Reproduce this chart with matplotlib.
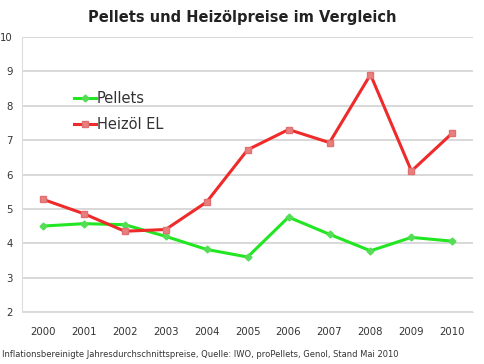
import matplotlib.pyplot as plt

# Jahresdurchschnittspreise (ct/kWh)
years = ['2000', '2001', '2002', '2003', '2004', '2005', '2006', '2007', '2008', '2009', '2010']
pellets = [4.50, 4.57, 4.54, 4.20, 3.82, 3.60, 4.76, 4.26, 3.78, 4.17, 4.06]
heizoel = [5.28, 4.86, 4.35, 4.40, 5.20, 6.72, 7.31, 6.93, 8.91, 6.10, 7.21]
yticks = [2, 3, 4, 5, 6, 7, 8, 9, 10]

fig = plt.figure(figsize=(4.85, 3.64), dpi=100)
ax = fig.add_axes([0.046, 0.143, 0.929, 0.755])

x = range(len(years))
ax.plot(x, pellets, color='#22e622', lw=2.2, marker='D', ms=3.5,
        mfc='#55dd55', mec='#55dd55', label='Pellets')
ax.plot(x, heizoel, color='#ee2a2a', lw=2.2, marker='s', ms=5,
        mfc='#e88080', mec='#e07070', label='Heizöl EL')

ax.set_xlim(-0.5, len(years) - 0.5)
ax.set_ylim(2, 10)
ax.set_yticks(yticks)
ax.set_xticks(list(x))
ax.set_xticklabels(years)
ax.tick_params(axis='both', labelsize=7.3, colors='#333333', length=0)
ax.tick_params(axis='y', pad=7)
ax.tick_params(axis='x', pad=11)
ax.grid(axis='y', color='#d8d8d8', lw=1.4)
ax.set_axisbelow(True)
for s in ['top', 'right']:
    ax.spines[s].set_visible(False)
ax.spines['left'].set_color('#dddddd')
ax.spines['bottom'].set_color('#dddddd')

ax.legend(loc='upper left', bbox_to_anchor=(0.085, 0.85), frameon=False,
          fontsize=10.5, handlelength=1.5, handletextpad=0.1, labelspacing=0.75,
          labelcolor='#333333')

fig.text(0.5, 0.953, 'Pellets und Heizölpreise im Vergleich', ha='center', va='center',
         fontsize=10.5, fontweight='bold', color='#222222')
fig.text(0.004, 0.027, 'Inflationsbereinigte Jahresdurchschnittspreise, Quelle: IWO, proPellets, Genol, Stand Mai 2010',
         ha='left', va='center', fontsize=6.0, color='#333333')

plt.savefig('out.png', dpi=100)
